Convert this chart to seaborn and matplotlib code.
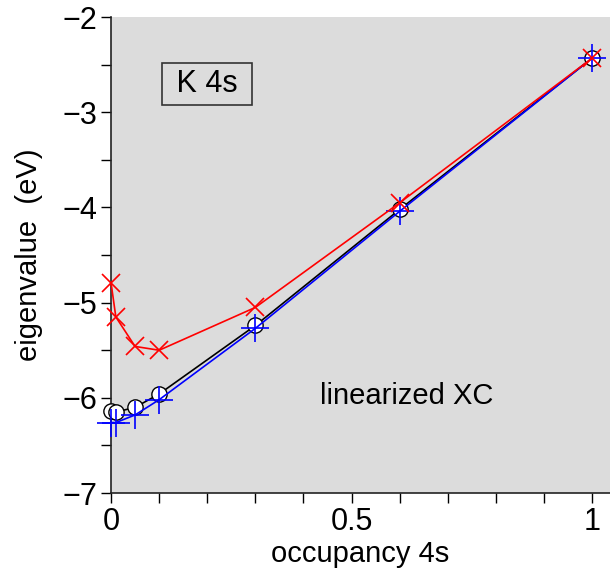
import numpy as np
import pandas as pd
import matplotlib
matplotlib.use("Agg")
import matplotlib.pyplot as plt
import seaborn as sns
from matplotlib.ticker import MultipleLocator, FuncFormatter

sns.set_style("white")
plt.rcParams['font.family'] = ['Liberation Sans', 'DejaVu Sans']
plt.rcParams['text.color'] = 'black'
plt.rcParams['axes.labelcolor'] = 'black'
plt.rcParams['xtick.color'] = 'black'
plt.rcParams['ytick.color'] = 'black'

# occupancy of 4s and eigenvalues (eV)
occ = [0.0, 0.01, 0.05, 0.1, 0.3, 0.6, 1.0]
eig_exact = [-6.14, -6.15, -6.10, -5.96, -5.24, -4.02, -2.43]
eig_linear = [-6.26, -6.26, -6.18, -6.02, -5.27, -4.04, -2.43]
eig_other = [-4.79, -5.15, -5.46, -5.50, -5.05, -3.95, -2.43]

df = pd.DataFrame({'occ': occ, 'exact': eig_exact,
                   'linear': eig_linear, 'other': eig_other})

fig = plt.figure(figsize=(6.10, 5.71), dpi=100)
ax = fig.add_axes([0.182, 0.1366, 0.818, 0.8334])
ax.set_facecolor('#dcdcdc')

sns.lineplot(data=df, x='occ', y='exact', ax=ax, color='black', lw=1.2,
             marker='o', markersize=11, markerfacecolor='white',
             markeredgecolor='black', markeredgewidth=1.0,
             sort=False, estimator=None, zorder=3, clip_on=False)
sns.lineplot(data=df, x='occ', y='linear', ax=ax, color='blue', lw=1.2,
             marker='+', markersize=20, markeredgecolor='blue',
             markeredgewidth=1.2, sort=False, estimator=None, zorder=4,
             clip_on=False)
sns.lineplot(data=df, x='occ', y='other', ax=ax, color='red', lw=1.2,
             marker='x', markersize=13, markeredgecolor='red',
             markeredgewidth=1.2, sort=False, estimator=None, zorder=5,
             clip_on=False)

ax.set_xlim(0, 1.037)
ax.set_ylim(-7, -2)
ax.xaxis.set_major_locator(MultipleLocator(0.1))
ax.yaxis.set_major_locator(MultipleLocator(0.5))

def xfmt(v, pos):
    if abs(v) < 1e-9:
        return '0'
    if abs(v - 0.5) < 1e-9:
        return '0.5'
    if abs(v - 1) < 1e-9:
        return '1'
    return ''

def yfmt(v, pos):
    if abs(v - round(v)) < 1e-9:
        return '\u2212%d' % abs(round(v))
    return ''

ax.xaxis.set_major_formatter(FuncFormatter(xfmt))
ax.yaxis.set_major_formatter(FuncFormatter(yfmt))
ax.tick_params(direction='out', length=7, width=1, labelsize=22, pad=3,
               bottom=True, left=True, color='black')

for s in ['top', 'right']:
    ax.spines[s].set_visible(False)
for s in ['left', 'bottom']:
    ax.spines[s].set_color('#222222')
    ax.spines[s].set_linewidth(1.2)

ax.set_xlabel('occupancy 4s', fontsize=21, labelpad=2)
ax.set_ylabel('eigenvalue  (eV)', fontsize=21, labelpad=14)

ax.text(0.615, -5.98, 'linearized XC', fontsize=21, ha='center', va='center')
ax.text(0.2, -2.70, ' K 4s ', fontsize=22, ha='center', va='center',
        bbox=dict(boxstyle='square,pad=0.2', facecolor='#dcdcdc',
                  edgecolor='#333333', lw=1.2))

fig.savefig('out.png', dpi=100)
